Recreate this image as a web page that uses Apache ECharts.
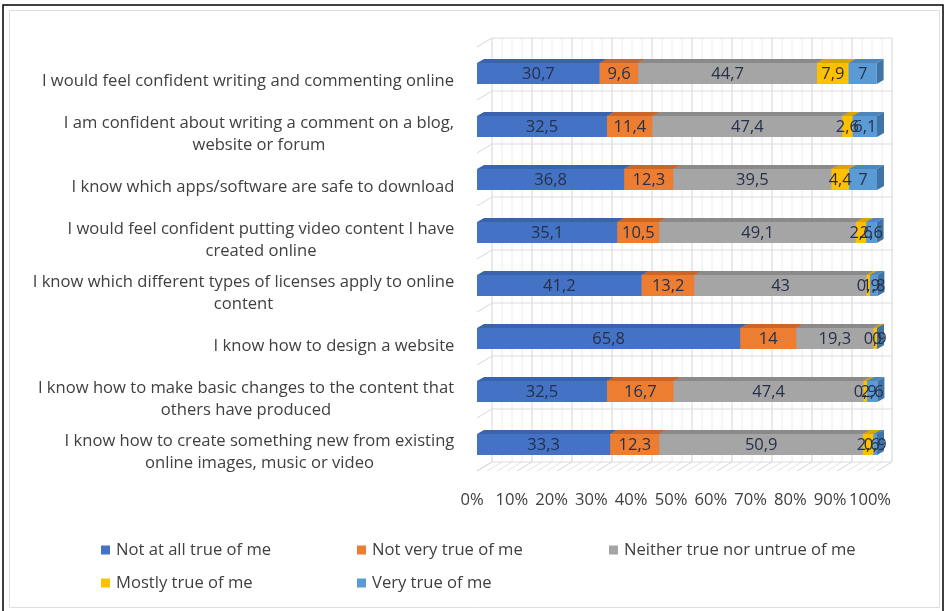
<!DOCTYPE html>
<html><head><meta charset="utf-8">
<script src="https://cdn.jsdelivr.net/npm/echarts@6/dist/echarts.min.js"></script>
<style>html,body{margin:0;padding:0;background:#fff}#c{width:949px;height:611px}</style>
</head><body><div id="c"></div>
<script>
const categories = [
  "I would feel confident writing and commenting online",
  "I am confident about writing a comment on a blog,\nwebsite or forum",
  "I know which apps/software are safe to download",
  "I would feel confident putting video content I have\ncreated online",
  "I know which different types of licenses apply to online\ncontent",
  "I know how to design a website",
  "I know how to make basic changes to the content that\nothers have produced",
  "I know how to create something new from existing\nonline images, music or video"
];
const seriesNames = ["Not at all true of me","Not very true of me","Neither true nor untrue of me","Mostly true of me","Very true of me"];
const notAtAll = [30.7, 32.5, 36.8, 35.1, 41.2, 65.8, 32.5, 33.3];
const notVery  = [9.6, 11.4, 12.3, 10.5, 13.2, 14, 16.7, 12.3];
const neither  = [44.7, 47.4, 39.5, 49.1, 43, 19.3, 47.4, 50.9];
const mostly   = [7.9, 2.6, 4.4, 2.6, 0.9, 0.9, 0.9, 2.6];
const very     = [7, 6.1, 7, 2.6, 1.8, 0, 2.6, 0.9];
const xTickLabels = ["0%","10%","20%","30%","40%","50%","60%","70%","80%","90%","100%"];

const colors = ['#4472C4','#ED7D31','#A5A5A5','#FFC000','#5B9BD5'];
const topColors = ['#3a63ad','#c9672a','#8a8a8a','#d9a300','#4d86ba'];
const sideColors = ['#31589c','#b25a24','#7c7c7c','#c09000','#3f74a6'];
const FONT = '"Open Sans", "Liberation Sans", sans-serif';
const FS = 16.6;
const allSeries = [notAtAll, notVery, neither, mostly, very];

// measure label widths for centered multi-line labels
const cv = document.createElement('canvas').getContext('2d');
cv.font = FS + 'px ' + FONT;
const rich = {};
categories.forEach((c, i) => {
  const w = Math.max(...c.split('\n').map(s => cv.measureText(s).width));
  rich['r' + i] = {width: Math.ceil(w) + 1, align: 'center', fontSize: FS, fontFamily: FONT, lineHeight: 22, color: '#404040'};
});

const fmt = v => String(v).replace('.', ',');
const DX = 7, DY = 4, H = 21;

function make3D(k) {
  const vals = allSeries[k];
  const data = vals.map((v, i) => {
    let s = 0;
    for (let j = 0; j < k; j++) s += allSeries[j][i];
    return [s, s + v, i, v];
  });
  return {
    type: 'custom', name: seriesNames[k], xAxisIndex: 0, yAxisIndex: 0,
    itemStyle: {color: colors[k]},
    encode: {x: [0, 1], y: 2},
    data: data,
    renderItem: (params, api) => {
      const s = api.value(0), e = api.value(1), c = api.value(2), v = api.value(3);
      const p0 = api.coord([s, c]), p1 = api.coord([e, c]);
      const x0 = p0[0], x1 = p1[0], yc = p0[1];
      const yT = yc - H / 2, yB = yc + H / 2;
      return {
        type: 'group',
        children: [
          {type: 'rect', shape: {x: x0, y: yT, width: x1 - x0, height: H}, style: {fill: colors[k]}},
          {type: 'polygon', shape: {points: [[x0, yT], [x1, yT], [x1 + DX, yT - DY], [x0 + DX, yT - DY]]}, style: {fill: topColors[k]}},
          {type: 'polygon', shape: {points: [[x1, yT], [x1 + DX, yT - DY], [x1 + DX, yB - DY], [x1, yB]]}, style: {fill: sideColors[k]}},
          {type: 'text', z2: 100, style: {text: fmt(v), x: (x0 + x1) / 2, y: yc + 1, align: 'center', verticalAlign: 'middle', fill: '#27304a', font: '16.5px ' + FONT}}
        ]
      };
    }
  };
}

const chart = echarts.init(document.getElementById('c'), null, {renderer: 'canvas'});
const legendPos = [[101, 541], [357, 541], [609, 541], [101, 574], [357, 574]];
chart.setOption({
  animation: false,
  backgroundColor: '#ffffff',
  grid: [
    {left: 477, right: 72, top: 47, bottom: 140},
    {left: 472, right: 79, top: 47, bottom: 140}
  ],
  xAxis: [
    {type: 'value', gridIndex: 0, min: 0, max: 100, interval: 10, axisLabel: {show: false}, splitLine: {show: false}, axisLine: {show: false}, axisTick: {show: false}},
    {type: 'value', gridIndex: 1, min: 0, max: 100, interval: 10, splitLine: {show: false}, axisLine: {show: false}, axisTick: {show: false},
     axisLabel: {margin: 21, fontSize: FS, fontFamily: FONT, color: '#404040', formatter: (v, i) => xTickLabels[i]}}
  ],
  yAxis: [
    {type: 'category', gridIndex: 0, inverse: true, data: categories, axisLine: {show: false}, axisTick: {show: false},
     axisLabel: {margin: 22, padding: [16, 0, 0, 0], formatter: (v, i) => '{r' + i + '|' + v + '}', rich: rich}},
    {type: 'category', gridIndex: 1, inverse: true, data: categories, show: false}
  ],
  legend: seriesNames.map((n, i) => ({
    data: [n], left: legendPos[i][0], top: legendPos[i][1], padding: 0, icon: 'rect', itemWidth: 9, itemHeight: 9, itemGap: 6,
    selectedMode: false, textStyle: {fontSize: FS, fontFamily: FONT, color: '#404040', lineHeight: 18, padding: [0, 0, 0, 1]}
  })),
  series: [0, 1, 2, 3, 4].map(make3D)
});

// 3D walls / floor (decoration) computed from the axes
const WX = 15, WY = 9;
const P = (x, y) => chart.convertToPixel({gridIndex: 0}, [x, y]);
const band = P(0, 1)[1] - P(0, 0)[1];
const yTop = P(0, 0)[1] - band / 2, yBot = P(0, categories.length - 1)[1] + band / 2;
const g = [];
const line = (x1, y1, x2, y2, c) => g.push({type: 'line', z: 0, silent: true, shape: {x1, y1, x2, y2}, style: {stroke: c, lineWidth: 1}});
for (let t = 0; t <= 100; t += 2.5) {
  const x = P(t, 0)[0];
  const major = (t % 10 === 0);
  line(x + WX, yTop - WY, x + WX, yBot - WY, major ? '#d4d4d4' : '#ececec');
  line(x, yBot, x + WX, yBot - WY, major ? '#d4d4d4' : '#e4e4e4');
}
for (let i = 0; i <= categories.length; i++) {
  const y = yTop + i * band;
  line(P(0, 0)[0] + WX, y - WY, P(100, 0)[0] + WX, y - WY, '#dcdcdc');
  line(P(0, 0)[0], y, P(0, 0)[0] + WX, y - WY, '#d8d8d8');
}
g.push({type: 'rect', z: 0, silent: true, shape: {x: 9.5, y: 10.5, width: 930, height: 597}, style: {fill: 'none', stroke: '#dedede', lineWidth: 1}});
g.push({type: 'rect', z: 0, silent: true, shape: {x: 3, y: 5, width: 940, height: 620}, style: {fill: 'none', stroke: '#000', lineWidth: 1.5}});
chart.setOption({graphic: g});
</script></body></html>
